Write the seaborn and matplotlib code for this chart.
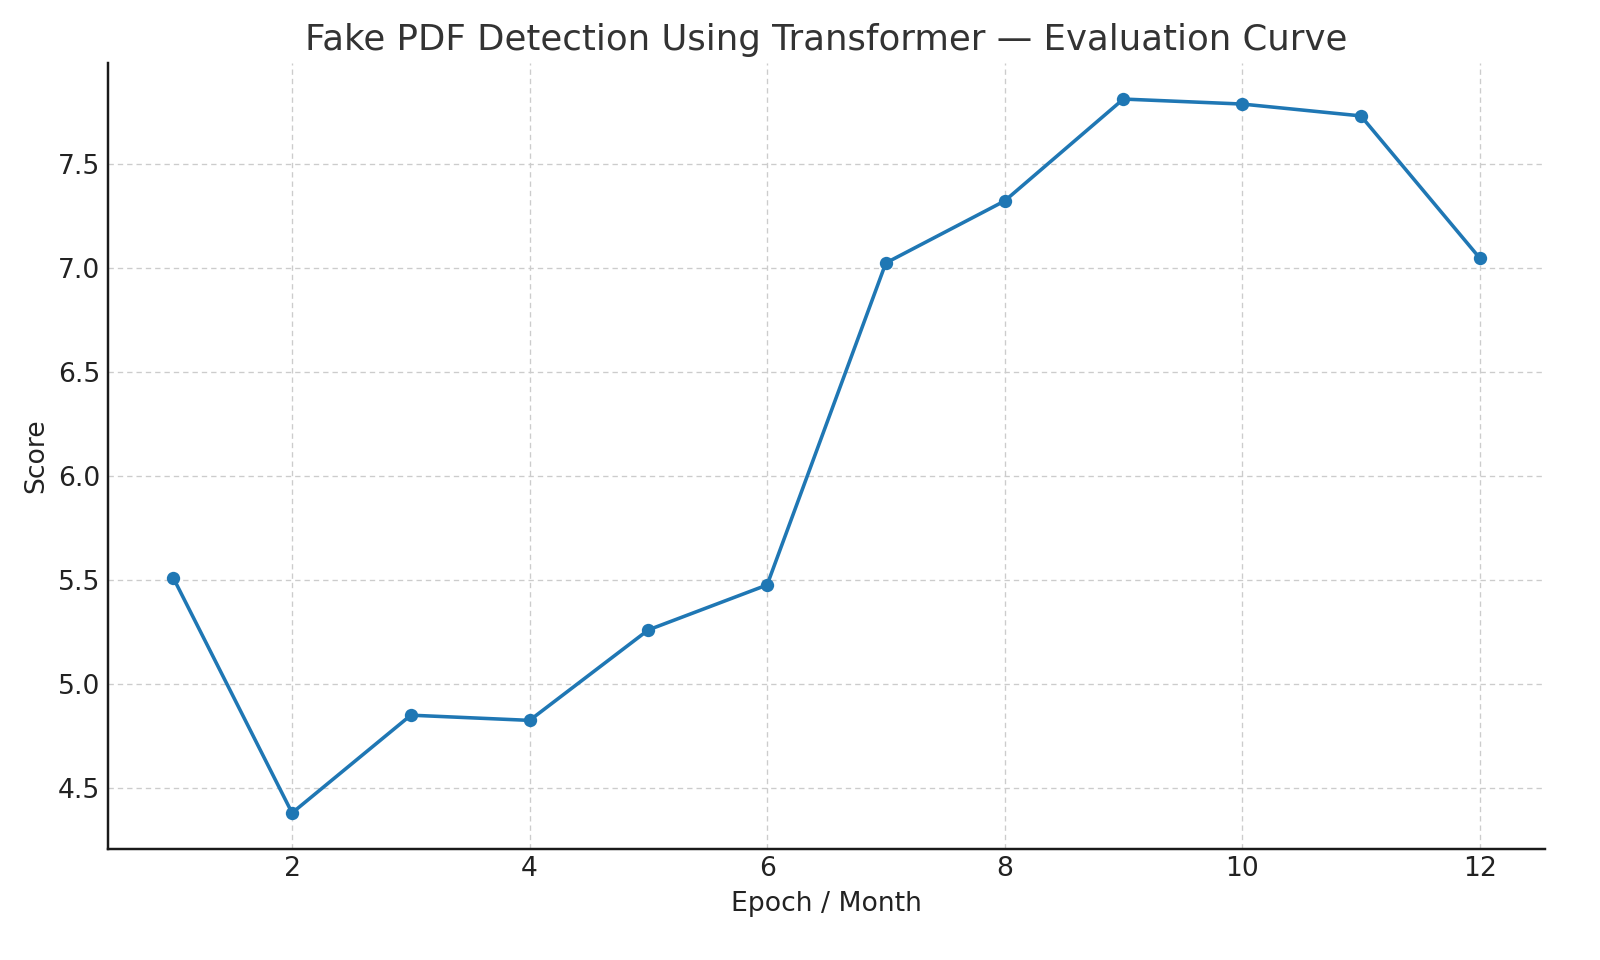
import numpy as np
import pandas as pd
import matplotlib
matplotlib.use("Agg")
import matplotlib.pyplot as plt
import seaborn as sns

epochs = [1, 2, 3, 4, 5, 6, 7, 8, 9, 10, 11, 12]
scores = [5.51, 4.38, 4.85, 4.825, 5.26, 5.476, 7.024, 7.322, 7.812, 7.788, 7.731, 7.048]

title = "Fake PDF Detection Using Transformer \u2014 Evaluation Curve"
x_label = "Epoch / Month"
y_label = "Score"


def main():
    sns.set_theme(style="white")
    plt.rcParams["font.family"] = ["DejaVu Sans"]
    df = pd.DataFrame({"epoch": epochs, "score": scores})

    fig, ax = plt.subplots(figsize=(10, 6), dpi=160)
    fig.subplots_adjust(left=0.0675, right=0.9656, top=0.934, bottom=0.116)

    sns.lineplot(data=df, x="epoch", y="score", ax=ax, color="#1f77b4",
                 marker="o", markersize=6, markeredgewidth=0, linewidth=1.6)

    ax.set_title(title, fontsize=16, color="#333333")
    ax.set_xlabel(x_label, fontsize=12, color="#222222")
    ax.set_ylabel(y_label, fontsize=12, color="#222222")
    ax.set_xticks([2, 4, 6, 8, 10, 12])
    ax.set_yticks([4.5, 5.0, 5.5, 6.0, 6.5, 7.0, 7.5])
    ax.margins(x=0.05, y=0.05)

    ax.grid(True, linestyle=(0, (4, 3)), color="#cccccc", linewidth=0.6)
    ax.tick_params(direction="in", length=4, width=1, colors="#222222", labelsize=12)
    for s in ["top", "right"]:
        ax.spines[s].set_visible(False)
    for s in ["left", "bottom"]:
        ax.spines[s].set_color("#1a1a1a")
        ax.spines[s].set_linewidth(1.1)

    fig.savefig("out.png", dpi=160)


if __name__ == "__main__":
    main()
